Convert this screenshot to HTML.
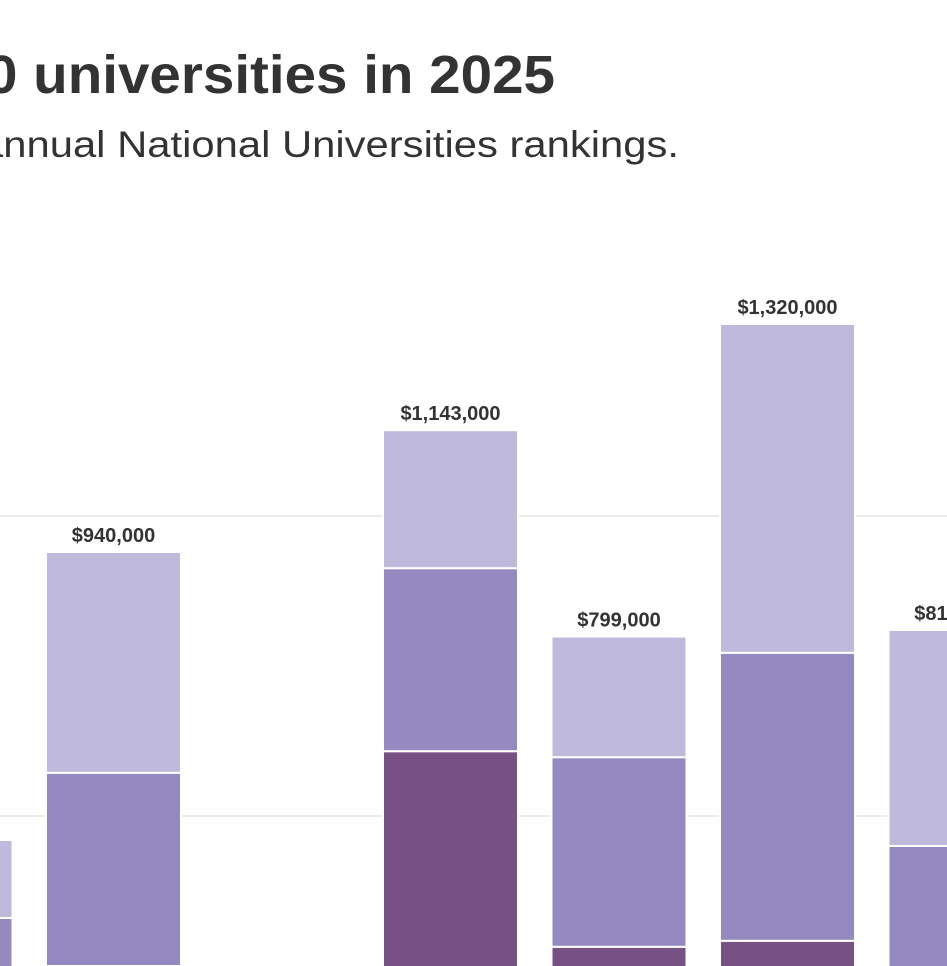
<!DOCTYPE html>
<html><head><meta charset="utf-8"><style>
html,body{margin:0;padding:0;background:#fff;overflow:hidden;width:947px;height:966px}
svg{display:block}
</style></head><body>
<svg id="chart" width="947" height="966" viewBox="0 0 947 966" xmlns="http://www.w3.org/2000/svg">
<text x="-14" y="93" textLength="569" lengthAdjust="spacingAndGlyphs" font-family="Liberation Sans, sans-serif" font-weight="bold" font-size="54" fill="#333">0 universities in 2025</text>
<text x="-20" y="157" textLength="699" lengthAdjust="spacingAndGlyphs" font-family="Liberation Sans, sans-serif" font-size="37" fill="#333">annual National Universities rankings.</text>
<g id="grid"></g>
<g id="bars"></g>
<g id="labels"></g>
</svg>
<script>
const categories = ["School A","School B","School C","School D","School E","School F","School G"];
const darkValues = [150000,250000,0,608000,282000,292000,200000];
const midValues = [180000,322000,0,305000,316000,480000,250000];
const lightValues = [130000,368000,0,230000,201000,548000,360000];
const totalLabels = ["$460,000","$940,000","","$1,143,000","$799,000","$1,320,000","$810,000"];
const gridTicks = [500000,1000000];

const NS="http://www.w3.org/2000/svg";
const y = v => 1116 - v*0.0006;
const x = i => -122.5 + i*168.5;
const bw = 135;
const grid=document.getElementById('grid'),bars=document.getElementById('bars'),labels=document.getElementById('labels');
gridTicks.forEach(t=>{
  const l=document.createElementNS(NS,'line');
  l.setAttribute('x1',0);l.setAttribute('x2',947);
  l.setAttribute('y1',y(t));l.setAttribute('y2',y(t));
  l.setAttribute('stroke','#ebebeb');l.setAttribute('stroke-width','2');
  
  
  grid.appendChild(l);
});
const colors=["#775184","#9589c1","#bfbadb"];
const segNames=["segment-dark","segment-mid","segment-light"];
categories.forEach((c,i)=>{
  const vals=[darkValues[i],midValues[i],lightValues[i]];
  let base=0;
  vals.forEach((v,k)=>{
    if(v<=0)return;
    const top=y(base+v), bot=Math.min(y(base),968);
    if(top<bot){
      const r=document.createElementNS(NS,'rect');
      r.setAttribute('x',x(i));r.setAttribute('width',bw);
      r.setAttribute('y',top);r.setAttribute('height',bot-top);
      r.setAttribute('fill',colors[k]);
      r.setAttribute('stroke','#fff');r.setAttribute('stroke-width','2');
      
      
      bars.appendChild(r);
    }
    base+=v;
  });
  if(base>0&&totalLabels[i]){
    const t=document.createElementNS(NS,'text');
    t.setAttribute('x',x(i)+bw/2);t.setAttribute('y',y(base)-10);
    t.setAttribute('text-anchor','middle');
    t.setAttribute('font-family','Liberation Sans, sans-serif');
    t.setAttribute('font-weight','bold');t.setAttribute('font-size','20');
    t.setAttribute('fill','#333');
    t.textContent=totalLabels[i];
    
    
    labels.appendChild(t);
  }
});
</script>
</body></html>
